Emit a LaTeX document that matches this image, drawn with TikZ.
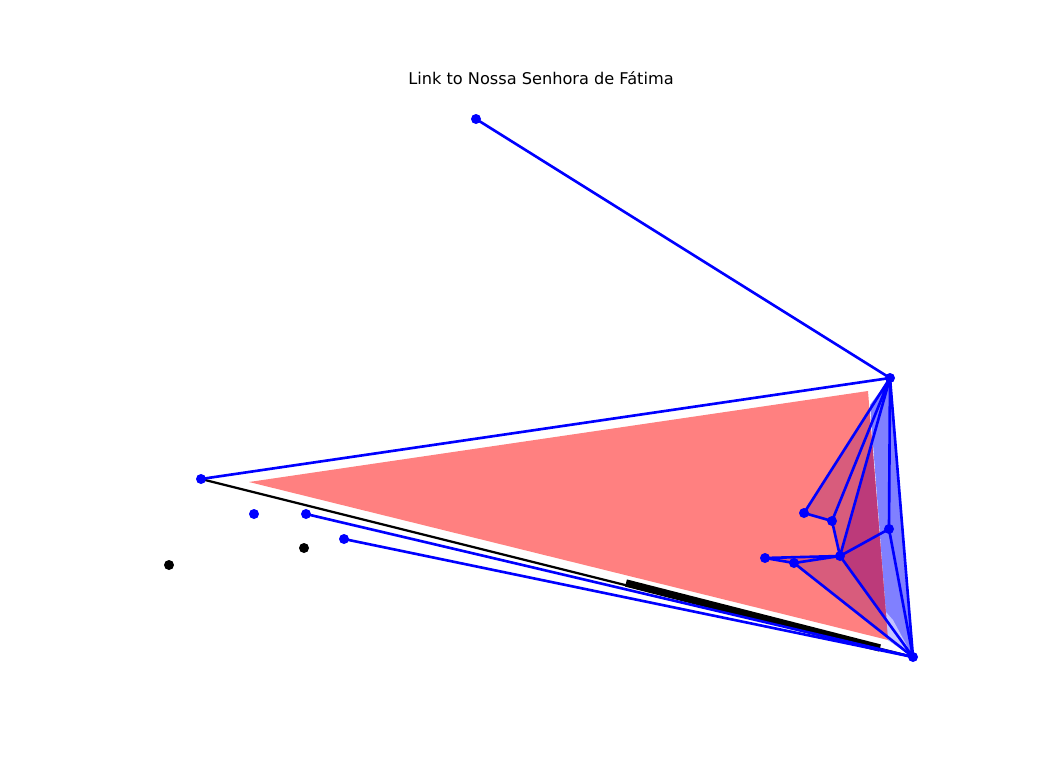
\documentclass[tikz,border=0pt]{standalone}
\usepackage{fontspec}
\setmainfont{DejaVu Sans}
\definecolor{lightred}{RGB}{255,128,128}
\definecolor{midred}{RGB}{216,92,124}
\definecolor{darkred}{RGB}{188,58,122}
\definecolor{halfblue}{RGB}{128,128,255}
\definecolor{paleblue}{RGB}{196,196,255}
\tikzset{
  edge/.style={blue,line width=1.5pt},
  bdot/.style={blue},
  kdot/.style={black}
}
\begin{document}
\begin{tikzpicture}[x=0.02cm,y=-0.02cm,line cap=round,line join=round]
  \useasboundingbox (0,0) rectangle (1056,768);
  \coordinate (T) at (476,119);
  \coordinate (A) at (890,378);
  \coordinate (L) at (201,479);
  \coordinate (B) at (913,657);
  \coordinate (P1) at (804,513);
  \coordinate (P2) at (832,521);
  \coordinate (P3) at (840,556);
  \coordinate (P4) at (889,529);
  \coordinate (P5) at (765,558);
  \coordinate (P6) at (794,563);
  \coordinate (Q1) at (254,514);
  \coordinate (Q2) at (306,514);
  \coordinate (Q3) at (344,539);
  \coordinate (K1) at (169,565);
  \coordinate (K2) at (304,548);
  \coordinate (R1) at (249,482);
  \coordinate (R2) at (868,391);
  \coordinate (R3) at (888,640);
  \coordinate (S1) at (626,583);
  \coordinate (S2) at (880,648);
  \node[font=\fontsize{9.2}{11}\selectfont] (title) at (541,78) {Link to Nossa Senhora de Fátima};
  % fills
  \fill[lightred] (R1)--(R2)--(R3)--cycle;
  \fill[halfblue] (A)--(870,405)--(R3)--(B)--cycle;
  \fill[paleblue] (886,612)--(R3)--(B)--(893,620)--cycle;
  \begin{scope}
    \clip (R1)--(R2)--(R3)--cycle;
    \fill[midred] (A)--(P1)--(P2)--(P3)--(P5)--(P6)--(B)--cycle;
    \fill[darkred] (A)--(P3)--(B)--cycle;
  \end{scope}
  % lines
  \draw[black,line width=1.3pt] (L)--(B);
  \draw[black,line width=4.2pt,line cap=butt] (S1)--(S2);
  \draw[edge] (T)--(A);
  \draw[edge] (L)--(A)--(B);
  \draw[edge] (Q2)--(B);
  \draw[edge] (Q3)--(B);
  \draw[edge] (A)--(P1)--(P2)--(A);
  \draw[edge] (P2)--(P3)--(A);
  \draw[edge] (A)--(P4)--(P3);
  \draw[edge] (P4)--(B)--(P3);
  \draw[edge] (P5)--(P3)--(P6)--(P5);
  \draw[edge] (P6)--(B);
  % dots
  \foreach \p in {T,A,L,B,P1,P2,P3,P4,P5,P6,Q1,Q2,Q3}
    \fill[bdot] (\p) circle (5);
  \foreach \p in {K1,K2}
    \fill[kdot] (\p) circle (5);
\end{tikzpicture}
\end{document}
